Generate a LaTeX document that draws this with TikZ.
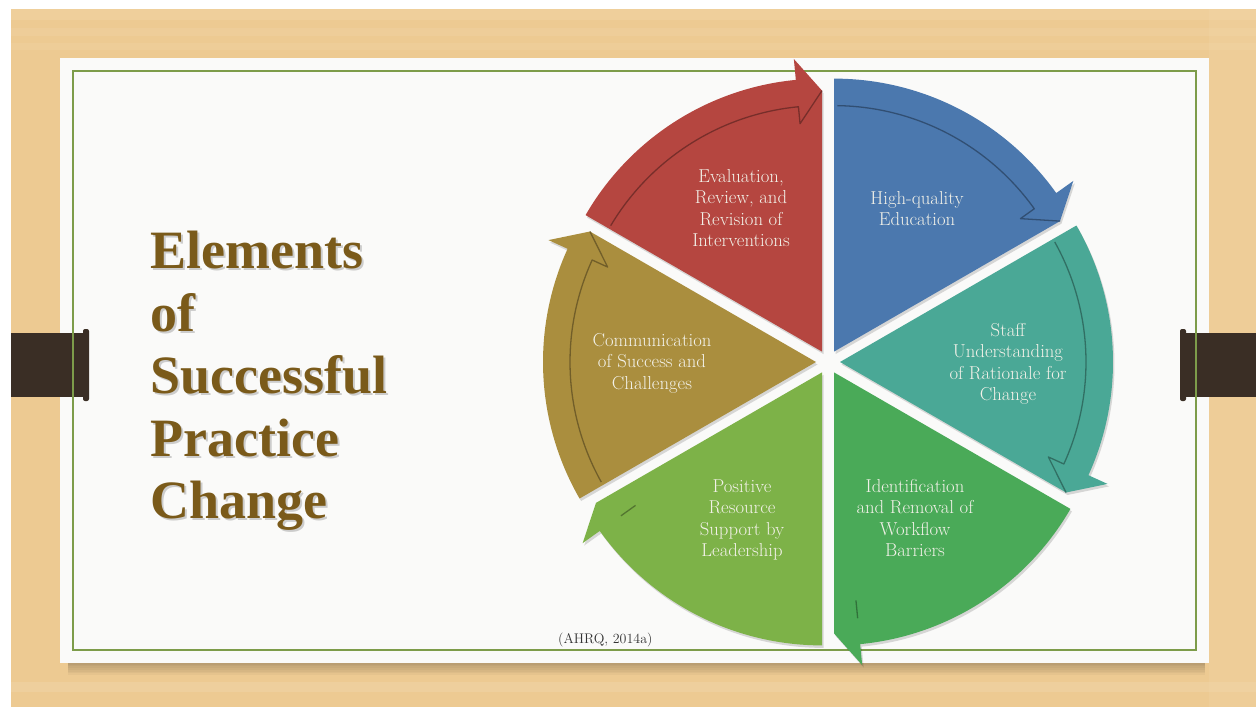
\documentclass[tikz,border=0pt]{standalone}
\usepackage{fontspec}
\newfontfamily\titlefont{Liberation Serif}
\definecolor{wood}{HTML}{EDCA92}
\definecolor{woodlight}{HTML}{F3D9AC}
\definecolor{card}{HTML}{FAFAF9}
\definecolor{border}{HTML}{7D9C4A}
\definecolor{bar}{HTML}{3A2E25}
\definecolor{wred}{HTML}{B54640}
\definecolor{wblue}{HTML}{4B78AE}
\definecolor{wteal}{HTML}{4AA896}
\definecolor{wdgreen}{HTML}{4AAA58}
\definecolor{wlgreen}{HTML}{7DB248}
\definecolor{wgold}{HTML}{AA8E3E}
\definecolor{labeltxt}{HTML}{F2F1E8}
\definecolor{titlebrown}{HTML}{7A5A1A}
\tikzset{
  lbl/.style={text=labeltxt, align=center, inner sep=0pt, font=\fontsize{18.7}{21.5}\selectfont},
  ttl/.style={anchor=base west, inner sep=0pt, text=titlebrown, font=\titlefont\bfseries\fontsize{54}{62}\selectfont},
  ttlshadow/.style={ttl, text=black, opacity=0.18},
  rimline/.style={line width=1.3pt, line join=round, opacity=0.75},
}
\newcommand{\cycwedge}[4]{%
  \pgfmathsetmacro\wa{#1}%
  \pgfmathsetmacro\wb{#1-60}%
  \pgfmathsetmacro\wc{#1-30}%
  \pgfmathsetmacro\wd{#1-54.5}%
  \pgfmathsetmacro\we{#1-0.8}%
  \begin{scope}[shift={(\wc:12)}]
    \begin{scope}[shift={(1.5,-2.5)}]
      \fill[black,opacity=0.14] (0,0) -- (\wa:273) arc[start angle=\wa, end angle=\wd, radius=273] -- (\wd:294) -- (\wb:261) -- cycle;
    \end{scope}
    \fill[#2] (0,0) -- (\wa:273) arc[start angle=\wa, end angle=\wd, radius=273] -- (\wd:294) -- (\wb:261) -- cycle;
    \ifnum#4=1
      \draw[rimline,#3] (\we:246) arc[start angle=\we, end angle=\wd, radius=246] -- (\wd:229) -- (\wb:261);
    \else
      \draw[rimline,#3] (\wd:247) -- (\wd:229);
    \fi
  \end{scope}}
\begin{document}
\begin{tikzpicture}[x=1pt,y=-1pt]
\useasboundingbox (0,0) rectangle (1256,707);
\fill[white] (0,0) rectangle (1256,707);
% wood background
\fill[wood] (11,9) rectangle (1256,707);
\fill[woodlight,opacity=0.35] (11,9) rectangle (1256,20);
\fill[white,opacity=0.07] (11,28) rectangle (1256,36);
\fill[white,opacity=0.06] (11,43) rectangle (1256,50);
\fill[white,opacity=0.10] (11,682) rectangle (1256,692);
\fill[woodlight,opacity=0.25] (1209,9) rectangle (1256,707);
% card shadow
\foreach \k in {1,...,7}{
  \fill[black,opacity=0.03] (68,656) rectangle (1205,663+1.7*\k);
}
% card
\fill[card] (60,58) rectangle (1209,663);
% bars
\fill[bar] (11,333) rectangle (86,397);
\fill[bar, rounded corners=2pt] (83,329) rectangle (89,401);
\fill[bar] (1183,333) rectangle (1256,397);
\fill[bar, rounded corners=2pt] (1180,329) rectangle (1186,401);
% border line
\draw[border, line width=1.8pt] (73,71) rectangle (1196,650);
% wheel
\begin{scope}[shift={(828,362)}, yscale=-1]
  \cycwedge{90}{wblue}{wblue!55!black}{1}
  \cycwedge{30}{wteal}{wteal!55!black}{1}
  \cycwedge{-30}{wdgreen}{wdgreen!55!black}{0}
  \cycwedge{-90}{wlgreen}{wlgreen!55!black}{0}
  \cycwedge{-150}{wgold}{wgold!55!black}{1}
  \cycwedge{150}{wred}{wred!55!black}{1}
\end{scope}
% labels
\node[lbl] (lred) at (741,208) {Evaluation,\\Review, and\\Revision of\\Interventions};
\node[lbl] (lblue) at (917,208.5) {High-quality\\Education};
\node[lbl] (lteal) at (1008,364) {Staff\\Understanding\\of Rationale for\\Change};
\node[lbl] (ldgreen) at (915,518) {Identification\\and Removal of\\Workflow\\Barriers};
\node[lbl] (llgreen) at (742,520) {Positive\\Resource\\Support by\\Leadership};
\node[lbl] (lgold) at (652,363) {Communication\\of Success and\\Challenges};
% title
\node[ttlshadow] (s1) at (152,270) {Elements};
\node[ttlshadow] (s2) at (152,333) {of};
\node[ttlshadow] (s3) at (152,395) {Successful};
\node[ttlshadow] (s4) at (152,458) {Practice};
\node[ttlshadow] (s5) at (152,520) {Change};
\node[ttl] (t1) at (150,268) {Elements};
\node[ttl] (t2) at (150,331) {of};
\node[ttl] (t3) at (150,393) {Successful};
\node[ttl] (t4) at (150,456) {Practice};
\node[ttl] (t5) at (150,518) {Change};
% citation
\node[anchor=base west, inner sep=0pt, text=black!80, font=\fontsize{14}{16}\selectfont] (cite) at (558,643) {(AHRQ, 2014a)};
\end{tikzpicture}
\end{document}
